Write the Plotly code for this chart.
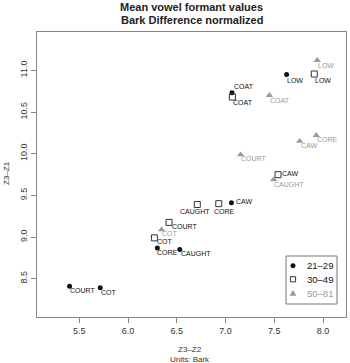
import plotly.graph_objects as go

# ---------------- Data: Z3-Z2 (x) and Z3-Z1 (y), Bark Difference normalized -------------
words_a = ["COURT", "COT", "CORE", "CAUGHT", "CAW", "COAT", "LOW"]
x_a = [5.40, 5.715, 6.30, 6.53, 7.06, 7.066, 7.626]
y_a = [8.41, 8.39, 8.867, 8.85, 9.41, 10.73, 10.95]

words_b = ["COT", "COURT", "CAUGHT", "CORE", "CAW", "COAT", "LOW"]
x_b = [6.27, 6.42, 6.71, 6.93, 7.538, 7.07, 7.91]
y_b = [8.99, 9.175, 9.39, 9.40, 9.748, 10.68, 10.956]

words_c = ["COT", "COURT", "CAUGHT", "CAW", "CORE", "COAT", "LOW"]
x_c = [6.344, 7.154, 7.493, 7.76, 7.93, 7.45, 7.94]
y_c = [9.088, 9.988, 9.69, 10.15, 10.22, 10.70, 11.12]

groups = ["21–29", "30–49", "50–81"]
x_ticks = [5.5, 6.0, 6.5, 7.0, 7.5, 8.0]
y_ticks = [8.5, 9.0, 9.5, 10.0, 10.5, 11.0]

# ---------------- Label offsets (pixels: right, down) -- styling only ----------------
off_a = [(0.7, 3), (0.3, 3), (-0.7, 3.3), (1, 2.7), (5, -2.7), (1.6, -7.4), (0, 4.3)]
off_b = [(2.7, 2.3), (2.7, 2.7), (-17.7, 5.7), (-4.4, 6), (4, -2.3), (0.3, 3.6), (0.3, 5)]
off_c = [(0.7, 2.7), (0.6, 2.4), (0, 3.3), (1, 3.3), (1, 2.6), (0.3, 3.7), (1, 3.3)]

GRAY = "#9a9a9a"
BLACK = "#111111"
FONT = "Liberation Sans"

# plot-area geometry in pixels (for paper-coordinate conversions of decorations)
L, R, T, B, W, H = 37, 4, 32, 46, 350, 363
PW, PH = W - L - R, H - T - B


def px(xp):
    return (xp - L) / PW


def py(yp):
    return (H - B - yp) / PH


fig = go.Figure()
styles = [
    dict(symbol="circle", size=5, color=BLACK),
    dict(symbol="square-open", size=6, color="#333", line=dict(width=1)),
    dict(symbol="triangle-up", size=6.5, color=GRAY),
]
series = [(x_a, y_a, words_a, off_a, BLACK), (x_b, y_b, words_b, off_b, BLACK),
          (x_c, y_c, words_c, off_c, GRAY)]

annotations = []
for (xs, ys, ws, offs, tcol), st, g in zip(series, styles, groups):
    fig.add_trace(go.Scatter(x=xs, y=ys, mode="markers", name=g, marker=st,
                             showlegend=False, hoverinfo="text", text=ws))
    for xv, yv, w, (dx, dy) in zip(xs, ys, ws, offs):
        annotations.append(dict(x=xv, y=yv, xref="x", yref="y", text=w, showarrow=False,
                                xanchor="left", yanchor="top", xshift=dx, yshift=-(dy - 2),
                                borderpad=0, borderwidth=0,
                                font=dict(size=7, color=tcol, family=FONT)))

# Title, axis titles
annotations += [
    dict(text="<b>Mean vowel formant values</b>", xref="paper", yref="paper",
         x=0.5, y=py(7), xanchor="center", yanchor="middle", showarrow=False,
         font=dict(size=11, color="#222", family=FONT)),
    dict(text="<b>Bark Difference normalized</b>", xref="paper", yref="paper",
         x=0.5, y=py(20), xanchor="center", yanchor="middle", showarrow=False,
         font=dict(size=11, color="#222", family=FONT)),
    dict(text="Z3–Z2", xref="paper", yref="paper", x=px(190), y=py(349),
         xanchor="center", yanchor="middle", showarrow=False,
         font=dict(size=8, color="#333", family=FONT)),
    dict(text="Units: Bark", xref="paper", yref="paper", x=px(190), y=py(359),
         xanchor="center", yanchor="middle", showarrow=False,
         font=dict(size=8, color="#333", family=FONT)),
    dict(text="Z3–Z1", xref="paper", yref="paper", x=px(6), y=py(173), textangle=-90,
         xanchor="center", yanchor="middle", showarrow=False,
         font=dict(size=8, color="#333", family=FONT)),
]

# Manual legend (box, keys, labels)
shapes = [dict(type="rect", xref="paper", yref="paper", x0=px(286), x1=px(337),
               y0=py(304), y1=py(256), line=dict(color="#777", width=1), fillcolor="white")]
rows = [265.7, 279.3, 293.3]
kx = px(293)
shapes.append(dict(type="circle", xref="paper", yref="paper", xsizemode="pixel", ysizemode="pixel",
                   xanchor=kx, yanchor=py(rows[0]), x0=-2.3, x1=2.3, y0=-2.3, y1=2.3,
                   fillcolor=BLACK, line=dict(color=BLACK, width=0.5)))
shapes.append(dict(type="rect", xref="paper", yref="paper", xsizemode="pixel", ysizemode="pixel",
                   xanchor=kx, yanchor=py(rows[1]), x0=-2.6, x1=2.6, y0=-2.6, y1=2.6,
                   fillcolor="rgba(0,0,0,0)", line=dict(color="#333", width=1)))
shapes.append(dict(type="path", xref="paper", yref="paper", xsizemode="pixel", ysizemode="pixel",
                   xanchor=kx, yanchor=py(rows[2]), path="M -3 -2.2 L 3 -2.2 L 0 3 Z",
                   fillcolor=GRAY, line=dict(color=GRAY, width=0.5)))
for r, g, c in zip(rows, groups, [BLACK, BLACK, GRAY]):
    annotations.append(dict(text=g, xref="paper", yref="paper", x=px(305), y=py(r),
                            xanchor="left", yanchor="middle", showarrow=False,
                            font=dict(size=9.5, color=c, family=FONT)))

axis_common = dict(showgrid=False, zeroline=False, showline=True, linecolor="#888", linewidth=1,
                   mirror=True, ticks="outside", ticklen=5, tickcolor="#888",
                   automargin=False, tickmode="array",
                   tickfont=dict(size=9, color="#333", family=FONT))

fig.update_layout(
    width=W, height=H,
    margin=dict(l=L, r=R, t=T, b=B, pad=0),
    paper_bgcolor="white", plot_bgcolor="white",
    font=dict(family=FONT, color="#222"),
    xaxis=dict(range=[5.066, 8.235], tickvals=x_ticks,
               ticktext=["%.1f" % v for v in x_ticks], **axis_common),
    yaxis=dict(range=[8.04, 11.46], tickvals=y_ticks, tickangle=-90,
               ticktext=["%.1f" % v for v in y_ticks], **axis_common),
    showlegend=False,
    annotations=annotations,
    shapes=shapes,
)

fig.write_html("out.html", config={"displayModeBar": False},
               post_script="document.body.style.margin='0';")
